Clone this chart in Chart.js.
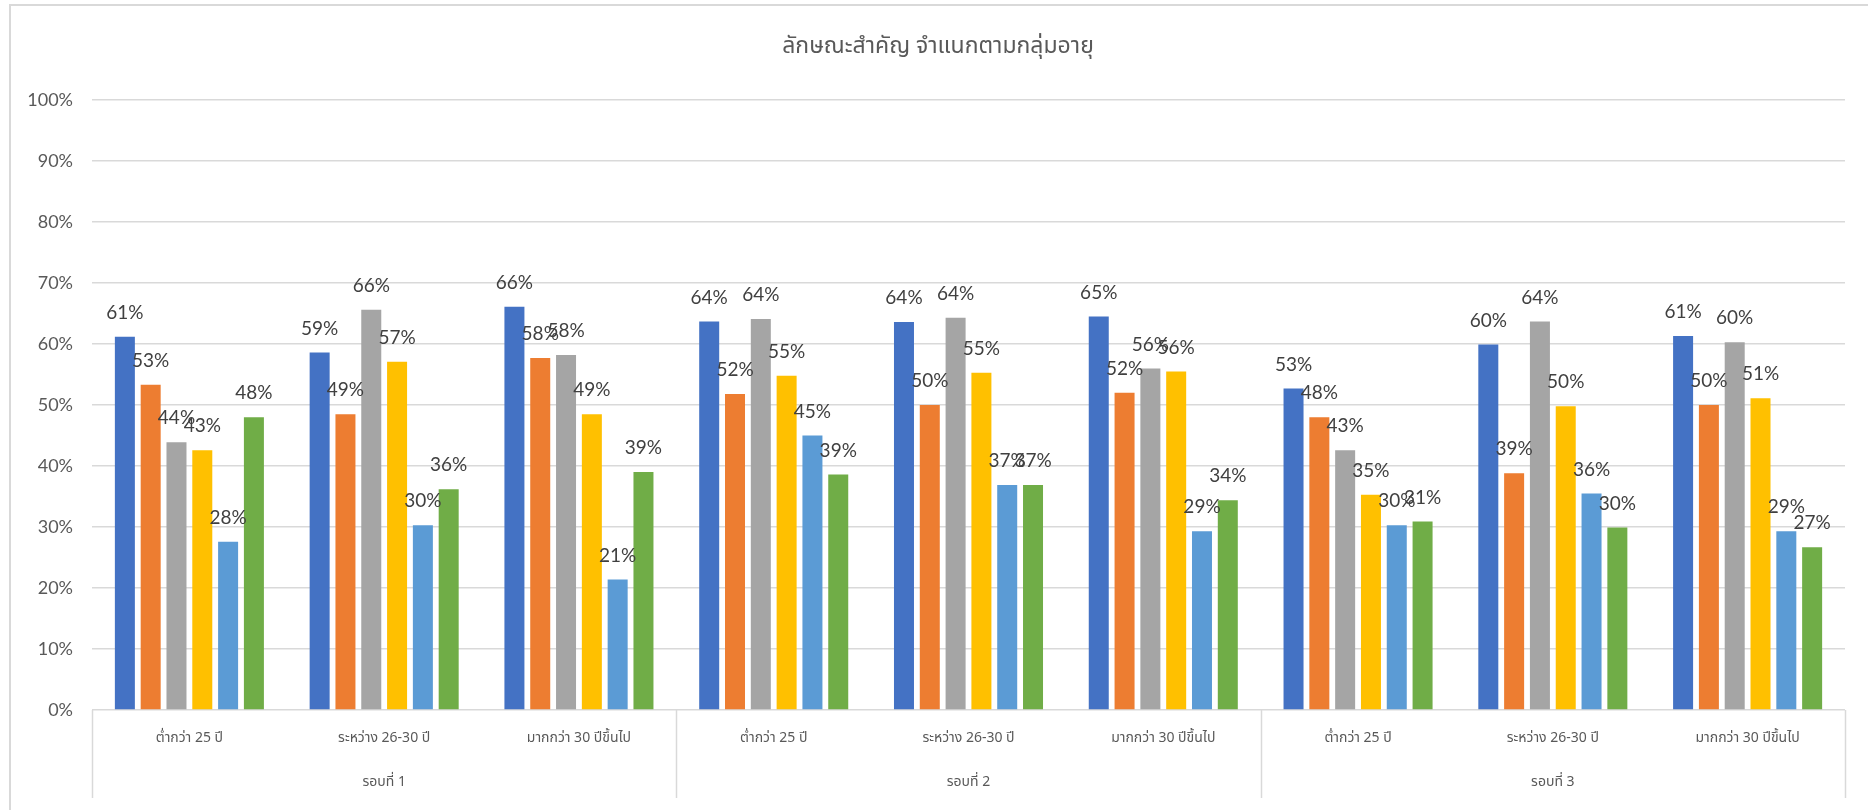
<!DOCTYPE html>
<html>
<head>
<meta charset="utf-8">
<script src="https://cdn.jsdelivr.net/npm/chart.js@4.4.1/dist/chart.umd.min.js"></script>
<style>
  html, body { margin: 0; padding: 0; background: #fff; }
  #wrap { width: 1868px; height: 810px; }
</style>
</head>
<body>
<div id="wrap"><canvas id="chart" width="1868" height="810"></canvas></div>
<script>
const chartTitle = "ลักษณะสำคัญ จำแนกตามกลุ่มอายุ";
const ageGroups = ["ต่ำกว่า 25 ปี", "ระหว่าง 26-30 ปี", "มากกว่า 30 ปีขึ้นไป"];
const rounds = ["รอบที่ 1", "รอบที่ 2", "รอบที่ 3"];
const categories = rounds.flatMap((r) => ageGroups);

// six series, one value per category (round 1..3 x age group)
const series1 = [0.612, 0.586, 0.661, 0.637, 0.636, 0.645, 0.527, 0.599, 0.613];
const series2 = [0.533, 0.485, 0.577, 0.518, 0.500, 0.520, 0.480, 0.388, 0.500];
const series3 = [0.439, 0.656, 0.582, 0.641, 0.643, 0.560, 0.426, 0.637, 0.603];
const series4 = [0.426, 0.571, 0.485, 0.548, 0.553, 0.555, 0.353, 0.498, 0.511];
const series5 = [0.276, 0.303, 0.214, 0.450, 0.369, 0.293, 0.303, 0.355, 0.293];
const series6 = [0.480, 0.362, 0.390, 0.386, 0.369, 0.344, 0.309, 0.299, 0.267];

const colors = ["#4472C4", "#ED7D31", "#A5A5A5", "#FFC000", "#5B9BD5", "#70AD47"];
const allSeries = [series1, series2, series3, series4, series5, series6];

const thaiFont = "'Noto Sans Thai', 'Leelawadee UI', Tahoma, 'Noto Sans', sans-serif";
const numFont = "Lato, 'Open Sans', sans-serif";
const gridColor = "#d9d9d9";

const extras = {
  id: "extras",
  afterDatasetsDraw(chart) {
    const ctx = chart.ctx;
    ctx.save();
    ctx.fillStyle = "#404040";
    ctx.font = "19px " + numFont;
    ctx.textAlign = "center";
    ctx.textBaseline = "middle";
    chart.data.datasets.forEach((ds, i) => {
      chart.getDatasetMeta(i).data.forEach((bar, j) => {
        ctx.fillText(Math.round(ds.data[j] * 100) + "%", bar.x, bar.y - 24);
      });
    });
    ctx.restore();
  },
  afterDraw(chart) {
    const ctx = chart.ctx;
    const area = chart.chartArea;
    const x = chart.scales.x;
    const n = categories.length;
    const step = (area.right - area.left) / n;
    ctx.save();

    // frame
    ctx.strokeStyle = gridColor;
    ctx.lineWidth = 2;
    ctx.beginPath();
    ctx.moveTo(10, 810);
    ctx.lineTo(10, 5);
    ctx.lineTo(1868, 5);
    ctx.stroke();

    // title
    ctx.fillStyle = "#595959";
    ctx.font = "23px " + thaiFont;
    ctx.textAlign = "center";
    ctx.textBaseline = "middle";
    ctx.fillText(chartTitle, 938, 48);

    // category labels
    ctx.font = "14px " + thaiFont;
    categories.forEach((c, i) => {
      ctx.fillText(c, x.getPixelForValue(i), 739);
    });

    // group labels and separators
    ctx.strokeStyle = gridColor;
    ctx.lineWidth = 1.5;
    rounds.forEach((r, g) => {
      const left = area.left + g * 3 * step;
      ctx.fillText(r, left + 1.5 * step, 783);
    });
    for (let g = 0; g <= rounds.length; g++) {
      const sx = Math.round(area.left + g * 3 * step) + 0.5;
      ctx.beginPath();
      ctx.moveTo(sx, area.bottom);
      ctx.lineTo(sx, 798);
      ctx.stroke();
    }
    ctx.restore();
  },
};

new Chart(document.getElementById("chart"), {
  type: "bar",
  data: {
    labels: categories,
    datasets: allSeries.map((s, i) => ({
      label: "series " + (i + 1),
      data: s,
      backgroundColor: colors[i],
      categoryPercentage: 0.795,
      barPercentage: 0.775,
    })),
  },
  options: {
    responsive: false,
    devicePixelRatio: 1,
    animation: false,
    layout: { padding: { top: 100, bottom: 100, left: 0, right: 23 } },
    plugins: {
      legend: { display: false },
      title: { display: false },
      tooltip: { enabled: false },
    },
    scales: {
      x: { display: false },
      y: {
        min: 0,
        max: 1,
        afterFit: (scale) => { scale.width = 92; },
        ticks: {
          stepSize: 0.1,
          padding: 19,
          color: "#595959",
          font: { family: numFont, size: 18 },
          callback: (v) => Math.round(v * 100) + "%",
        },
        grid: { color: gridColor, lineWidth: 1.5, drawTicks: false },
        border: { display: false },
      },
    },
  },
  plugins: [extras],
});
</script>
</body>
</html>
